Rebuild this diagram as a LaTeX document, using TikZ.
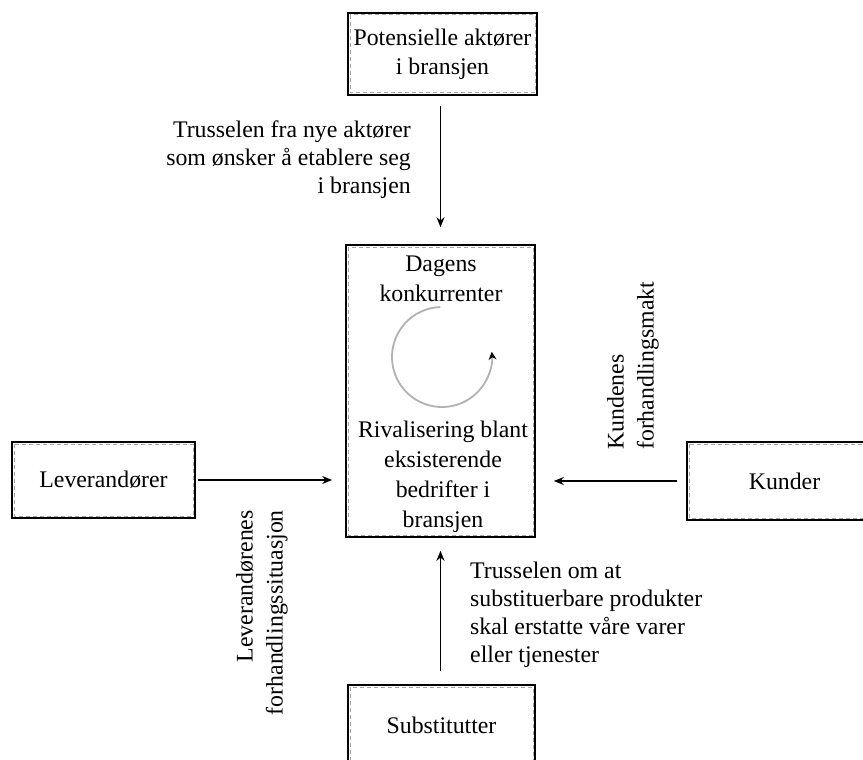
\documentclass[tikz,border=0pt]{standalone}
\usepackage{fontspec}
\setmainfont{Liberation Serif}
\usetikzlibrary{arrows.meta}
\begin{document}
\begin{tikzpicture}[x=1pt,y=-1pt,
  every node/.style={font=\fontsize{23.8}{28}\selectfont, inner sep=0pt},
  boxst/.style={draw=black, line width=1.6pt, fill=white, align=center},
  innerdash/.style={draw=black!35, line width=1pt, dash pattern=on 4pt off 3pt},
  arr/.style={-{Stealth[length=10pt,width=8pt]}, line width=1.6pt},
  circarr/.style={draw=black!30, line width=1.8pt, -{Stealth[length=8pt,width=8pt,color=black]}},
  lbl/.style={font=\fontsize{23.8}{28}\selectfont},
  cenlbl/.style={font=\fontsize{23.8}{30}\selectfont, align=center}]
\useasboundingbox (0,0) rectangle (863,760);

% boxes
\node[boxst, minimum width=189pt, minimum height=82pt, font=\fontsize{23.8}{29}\selectfont] (pot) at (442.5,54) {Potensielle aktører\\i bransjen};
\node[boxst, minimum width=189pt, minimum height=292pt] (cen) at (440.5,391) {};
\node[boxst, minimum width=183pt, minimum height=76pt] (lev) at (103.5,480) {Leverandører};
\node[boxst, minimum width=195pt, minimum height=78pt] (kun) at (784.5,481) {Kunder};
\node[boxst, minimum width=187pt, minimum height=80pt] (sub) at (441.5,725) {Substitutter};

\foreach \n in {pot,cen,lev,kun,sub}
  \draw[innerdash] ([xshift=2.8pt,yshift=-2.8pt]\n.north west) rectangle ([xshift=-2.8pt,yshift=2.8pt]\n.south east);

% texts inside the centre box
\node[cenlbl, anchor=north] (dag) at (441,256) {Dagens\\ konkurrenter};
\node[cenlbl, anchor=north] (riv) at (443,421) {Rivalisering blant\\eksisterende\\bedrifter i\\bransjen};

% circular arrow
\coordinate (cc) at (442,357);
\draw[circarr] ([shift={(268:50)}]cc) arc[start angle=268, end angle=-6, radius=50];

% connector labels
\node[lbl, align=right, anchor=north east] (t1) at (411,121) {Trusselen fra nye aktører\\som ønsker å etablere seg\\i bransjen};
\node[lbl, align=left, anchor=north west] (t2) at (470,562) {Trusselen om at\\substituerbare produkter\\skal erstatte våre varer\\eller tjenester};
\node[lbl, font=\fontsize{23.8}{30}\selectfont, align=right, rotate=90, anchor=north east] (t3) at (236,510) {Leverandørenes\\forhandlingssituasjon};
\node[lbl, font=\fontsize{23.8}{30}\selectfont, align=left, rotate=90, anchor=north west] (t4) at (607,450) {Kundenes\\forhandlingsmakt};

% connectors
\draw[arr, shorten <=10pt, shorten >=17pt] (pot.south -| cen.north) -- (cen.north);
\draw[arr, shorten <=2pt, shorten >=13pt] (lev.east) -- (lev.east -| cen.west);
\draw[arr, shorten <=9pt, shorten >=18pt] (kun.west) -- (kun.west -| cen.east);
\draw[arr, shorten <=13pt, shorten >=13pt] (sub.north -| cen.south) -- (cen.south);
\end{tikzpicture}
\end{document}
